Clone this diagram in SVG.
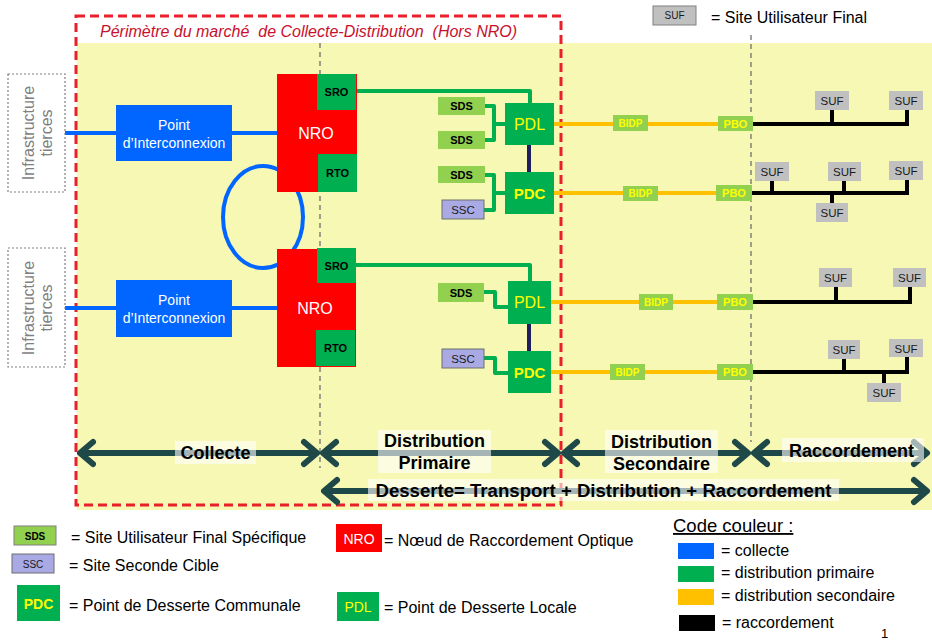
<svg xmlns="http://www.w3.org/2000/svg" width="932" height="642" viewBox="0 0 932 642">
<style>
text{font-family:"Liberation Sans",Arial,sans-serif}
.bg{fill:#f7f8b4}
.infra{fill:#fff;stroke:#808080;stroke-width:1.2;stroke-dasharray:2 2}
.infrat{fill:#7f7f7f;font-size:16px}
.blue{fill:#0066ff}
.bl{stroke:#0066ff;stroke-width:4;fill:none}
.red{fill:#ff0000}
.grn{fill:#00b050}
.lg{fill:#92d050}
.gl{stroke:#00b050;stroke-width:4;fill:none;stroke-linejoin:round}
.nv{stroke:#1f1f5f;stroke-width:4;fill:none}
.ol{stroke:#ffc000;stroke-width:4;fill:none}
.kl{stroke:#000;stroke-width:4;fill:none;stroke-linejoin:miter}
.ssc{fill:#a9a9e3;stroke:#6f6f6f;stroke-width:1}
.suf{fill:#c0c0c0}
.w{fill:#fff}
.bk{fill:#000;font-weight:bold;font-size:11px}
.ylw{fill:#ffff00}
.sm{fill:#1a1a1a;font-size:11.5px}
.vd{stroke:#6f6f6f;stroke-width:1.3;stroke-dasharray:5 4}
.arr{stroke:#1f4848;stroke-width:6;fill:none;marker-start:url(#chev);marker-end:url(#chev)}
.lb{fill:#fff;fill-opacity:0.6}
.lbt{fill:#000;font-weight:bold;font-size:18px}
.leg{fill:#000;font-size:16px}
</style>
<defs>
<marker id="chev" viewBox="-18 -16 22 32" refX="0" refY="0" markerWidth="22" markerHeight="32" markerUnits="userSpaceOnUse" orient="auto-start-reverse">
<path d="M-13,-11 L0,0 L-13,11" fill="none" stroke="#1f4848" stroke-width="6" stroke-linecap="round" stroke-linejoin="round"/>
</marker>
</defs>

<rect class="bg" x="77" y="43" width="855" height="467"/>
<line class="vd" x1="320" y1="43" x2="320" y2="468"/>
<line class="vd" x1="751" y1="35" x2="751" y2="442"/>

<g id="perimetre">
<rect x="76" y="16" width="485" height="489" fill="none" stroke="#e8202a" stroke-width="3" stroke-dasharray="9 5"/>
<text x="100" y="37" fill="#c8102e" font-size="16" font-style="italic" xml:space="preserve">Périmètre du marché  de Collecte-Distribution  (Hors NRO)</text>
</g>

<g id="connectors">
<path class="bl" d="M65,133 H117 M232,133 H278"/>
<path class="bl" d="M65,308 H117 M232,308 H278"/>
<ellipse class="bl" cx="263" cy="217" rx="40" ry="51"/>
<path class="gl" d="M356,91 H530 V103"/>
<path class="gl" d="M485,106 H494 V140 H485 M494,124 H505"/>
<path class="gl" d="M485,175 H494 V210 H484 M494,193 H505"/>
<path class="nv" d="M529,145 V172"/>
<path class="gl" d="M356,265 H530 V281"/>
<path class="gl" d="M484,292 H495 V307 H508"/>
<path class="gl" d="M484,358 H495 V373 H508"/>
<path class="nv" d="M529,324 V351"/>
<path class="ol" d="M554,124 H718"/>
<path class="ol" d="M554,193 H716"/>
<path class="ol" d="M551,302 H717"/>
<path class="ol" d="M551,372 H717"/>
<path class="kl" d="M753,124 H907 V110 M832,124 V110"/>
<path class="kl" d="M752,193 H907 V180 M772,193 V181 M844,193 V181 M832,193 V203"/>
<path class="kl" d="M753,302 H910 V287 M836,302 V287"/>
<path class="kl" d="M753,372 H907 V357 M844,372 V359 M884,372 V383"/>
<line class="arr" x1="80" y1="453" x2="317" y2="453"/>
<line class="arr" x1="323" y1="453" x2="558" y2="453"/>
<line class="arr" x1="564" y1="453" x2="748" y2="453"/>
<line class="arr" x1="754" y1="453" x2="927" y2="453"/>
<line class="arr" x1="324" y1="491" x2="927" y2="491"/>
</g>

<g id="infra1"><rect class="infra" x="8" y="74" width="57" height="118"/>
<text class="infrat" transform="translate(34,133) rotate(-90)" text-anchor="middle">Infrastructure</text>
<text class="infrat" transform="translate(52,133) rotate(-90)" text-anchor="middle">tierces</text></g>
<g id="infra2"><rect class="infra" x="8" y="248" width="57" height="119"/>
<text class="infrat" transform="translate(34,308) rotate(-90)" text-anchor="middle">Infrastructure</text>
<text class="infrat" transform="translate(52,308) rotate(-90)" text-anchor="middle">tierces</text></g>

<g id="pi1"><rect class="blue" x="116" y="105" width="116" height="56"/>
<text x="174" y="130" class="w" font-size="14" text-anchor="middle">Point</text>
<text x="174" y="148" class="w" font-size="14" text-anchor="middle">d’Interconnexion</text></g>
<g id="pi2"><rect class="blue" x="116" y="280" width="116" height="57"/>
<text x="174" y="305" class="w" font-size="14" text-anchor="middle">Point</text>
<text x="174" y="323" class="w" font-size="14" text-anchor="middle">d’Interconnexion</text></g>

<g id="nro1"><rect class="red" x="277" y="74" width="80" height="118"/>
<text x="316" y="139" class="w" font-size="16" text-anchor="middle">NRO</text></g>
<g id="sro1"><rect class="grn" x="317" y="74" width="39" height="36"/><text x="336.5" y="96" class="bk" text-anchor="middle">SRO</text></g>
<g id="rto1"><rect class="grn" x="318" y="154" width="39" height="38"/><text x="337.5" y="177" class="bk" text-anchor="middle">RTO</text></g>
<g id="nro2"><rect class="red" x="277" y="249" width="79" height="118"/>
<text x="315" y="314" class="w" font-size="16" text-anchor="middle">NRO</text></g>
<g id="sro2"><rect class="grn" x="317" y="248" width="39" height="35"/><text x="336.5" y="270" class="bk" text-anchor="middle">SRO</text></g>
<g id="rto2"><rect class="grn" x="316" y="330" width="39" height="36"/><text x="335.5" y="352" class="bk" text-anchor="middle">RTO</text></g>

<g id="sds1"><rect class="lg" x="438" y="97" width="47" height="18"/><text x="461.5" y="110" class="bk" text-anchor="middle">SDS</text></g>
<g id="sds2"><rect class="lg" x="438" y="131" width="47" height="18"/><text x="461.5" y="144" class="bk" text-anchor="middle">SDS</text></g>
<g id="sds3"><rect class="lg" x="438" y="166" width="47" height="17"/><text x="461.5" y="179" class="bk" text-anchor="middle">SDS</text></g>
<g id="ssc1"><rect class="ssc" x="442" y="200" width="42" height="19"/><text x="463" y="214" class="sm" text-anchor="middle">SSC</text></g>
<g id="pdl1"><rect class="grn" x="505" y="103" width="49" height="42"/><text x="529.5" y="130" class="ylw" font-size="16" text-anchor="middle">PDL</text></g>
<g id="pdc1"><rect class="grn" x="505" y="172" width="49" height="42"/><text x="529.5" y="199" class="ylw" font-size="15" font-weight="bold" text-anchor="middle">PDC</text></g>
<g id="sds4"><rect class="lg" x="438" y="283" width="46" height="19"/><text x="461" y="297" class="bk" text-anchor="middle">SDS</text></g>
<g id="ssc2"><rect class="ssc" x="442" y="349" width="42" height="19"/><text x="463" y="363" class="sm" text-anchor="middle">SSC</text></g>
<g id="pdl2"><rect class="grn" x="508" y="281" width="43" height="43"/><text x="529.5" y="308" class="ylw" font-size="16" text-anchor="middle">PDL</text></g>
<g id="pdc2"><rect class="grn" x="508" y="351" width="43" height="42"/><text x="529.5" y="378" class="ylw" font-size="15" font-weight="bold" text-anchor="middle">PDC</text></g>

<g id="bidp1"><rect class="lg" x="613" y="115" width="35" height="16"/><text x="630.5" y="127" class="ylw" font-size="10" font-weight="bold" text-anchor="middle">BIDP</text></g>
<g id="pbo1"><rect class="lg" x="718" y="116" width="35" height="15"/><text x="735.5" y="128" class="ylw" font-size="11" font-weight="bold" text-anchor="middle">PBO</text></g>
<g id="bidp2"><rect class="lg" x="623" y="186" width="35" height="15"/><text x="640.5" y="197" class="ylw" font-size="10" font-weight="bold" text-anchor="middle">BIDP</text></g>
<g id="pbo2"><rect class="lg" x="716" y="185" width="36" height="16"/><text x="734" y="197" class="ylw" font-size="11" font-weight="bold" text-anchor="middle">PBO</text></g>
<g id="bidp3"><rect class="lg" x="639" y="294" width="34" height="16"/><text x="656" y="306" class="ylw" font-size="10" font-weight="bold" text-anchor="middle">BIDP</text></g>
<g id="pbo3"><rect class="lg" x="717" y="294" width="36" height="16"/><text x="735" y="306" class="ylw" font-size="11" font-weight="bold" text-anchor="middle">PBO</text></g>
<g id="bidp4"><rect class="lg" x="610" y="364" width="35" height="16"/><text x="627.5" y="376" class="ylw" font-size="10" font-weight="bold" text-anchor="middle">BIDP</text></g>
<g id="pbo4"><rect class="lg" x="717" y="364" width="36" height="16"/><text x="735" y="376" class="ylw" font-size="11" font-weight="bold" text-anchor="middle">PBO</text></g>

<g id="suf1a"><rect class="suf" x="815" y="91" width="34" height="19"/><text x="832" y="105" class="sm" text-anchor="middle">SUF</text></g>
<g id="suf1b"><rect class="suf" x="889" y="91" width="34" height="19"/><text x="906" y="105" class="sm" text-anchor="middle">SUF</text></g>
<g id="suf2a"><rect class="suf" x="755" y="162" width="34" height="19"/><text x="772" y="176" class="sm" text-anchor="middle">SUF</text></g>
<g id="suf2b"><rect class="suf" x="828" y="162" width="33" height="19"/><text x="844.5" y="176" class="sm" text-anchor="middle">SUF</text></g>
<g id="suf2c"><rect class="suf" x="889" y="161" width="34" height="19"/><text x="906" y="175" class="sm" text-anchor="middle">SUF</text></g>
<g id="suf2d"><rect class="suf" x="816" y="203" width="32" height="19"/><text x="832" y="217" class="sm" text-anchor="middle">SUF</text></g>
<g id="suf3a"><rect class="suf" x="819" y="268" width="33" height="19"/><text x="835.5" y="282" class="sm" text-anchor="middle">SUF</text></g>
<g id="suf3b"><rect class="suf" x="893" y="268" width="33" height="19"/><text x="909.5" y="282" class="sm" text-anchor="middle">SUF</text></g>
<g id="suf4a"><rect class="suf" x="828" y="340" width="32" height="19"/><text x="844" y="354" class="sm" text-anchor="middle">SUF</text></g>
<g id="suf4b"><rect class="suf" x="889" y="339" width="34" height="18"/><text x="906" y="353" class="sm" text-anchor="middle">SUF</text></g>
<g id="suf4c"><rect class="suf" x="867" y="383" width="34" height="19"/><text x="884" y="397" class="sm" text-anchor="middle">SUF</text></g>

<g id="lbl-collecte"><rect class="lb" x="175" y="441" width="81" height="23"/><text x="215.5" y="459" class="lbt" text-anchor="middle">Collecte</text></g>
<g id="lbl-dp"><rect class="lb" x="378" y="430" width="113" height="43"/><text x="434.5" y="447" class="lbt" text-anchor="middle">Distribution</text><text x="434.5" y="469" class="lbt" text-anchor="middle">Primaire</text></g>
<g id="lbl-ds"><rect class="lb" x="605" y="430" width="113" height="43"/><text x="661.5" y="448" class="lbt" text-anchor="middle">Distribution</text><text x="661.5" y="470" class="lbt" text-anchor="middle">Secondaire</text></g>
<g id="lbl-racc"><rect class="lb" x="782" y="438" width="142" height="24"/><text x="851.5" y="457" class="lbt" text-anchor="middle">Raccordement</text></g>
<g id="lbl-desserte"><rect class="lb" x="368" y="479" width="471" height="22"/><text x="603.5" y="497" class="lbt" text-anchor="middle" textLength="456" lengthAdjust="spacingAndGlyphs">Desserte= Transport + Distribution + Raccordement</text></g>

<g id="legend-suf"><rect class="suf" x="653" y="6" width="43" height="19" stroke="#808080" stroke-width="1"/><text x="674.5" y="19" fill="#1a1a1a" font-size="10" text-anchor="middle">SUF</text>
<text x="711" y="23" class="leg" font-size="16">= Site Utilisateur Final</text></g>

<g id="legend-sds"><rect class="lg" x="14" y="526" width="42" height="19" stroke="#808080" stroke-width="1"/><text x="35" y="540" fill="#000" font-size="10" font-weight="bold" text-anchor="middle">SDS</text>
<text x="71" y="543" class="leg">= Site Utilisateur Final Spécifique</text></g>
<g id="legend-ssc"><rect class="ssc" x="12" y="554" width="42" height="19"/><text x="33" y="568" fill="#1a1a1a" font-size="10" text-anchor="middle">SSC</text>
<text x="69" y="571" class="leg">= Site Seconde Cible</text></g>
<g id="legend-pdc"><rect class="grn" x="17" y="585" width="43" height="36"/><text x="38.5" y="609" class="ylw" font-size="14" font-weight="bold" text-anchor="middle">PDC</text>
<text x="69" y="611" class="leg">= Point de Desserte Communale</text></g>
<g id="legend-nro"><rect class="red" x="336" y="524" width="46" height="28"/><text x="359" y="544" class="w" font-size="14" text-anchor="middle">NRO</text>
<text x="384" y="546" class="leg">= Nœud de Raccordement Optique</text></g>
<g id="legend-pdl"><rect class="grn" x="337" y="592" width="42" height="29"/><text x="358" y="612" class="ylw" font-size="14" text-anchor="middle">PDL</text>
<text x="384" y="613" class="leg">= Point de Desserte Locale</text></g>

<g id="code-couleur">
<text x="673" y="532" fill="#000" font-size="18.5" text-decoration="underline">Code couleur :</text>
<rect class="blue" x="678" y="543" width="36" height="16"/><text x="721" y="556" class="leg">= collecte</text>
<rect class="grn" x="678" y="566" width="36" height="16"/><text x="721" y="578" class="leg">= distribution primaire</text>
<rect fill="#ffc000" x="678" y="589" width="36" height="16"/><text x="721" y="601" class="leg">= distribution secondaire</text>
<rect fill="#000" x="679" y="615" width="36" height="16"/><text x="722" y="628" class="leg">= raccordement</text>
</g>
<text x="881" y="638" fill="#000" font-size="13">1</text>
</svg>
